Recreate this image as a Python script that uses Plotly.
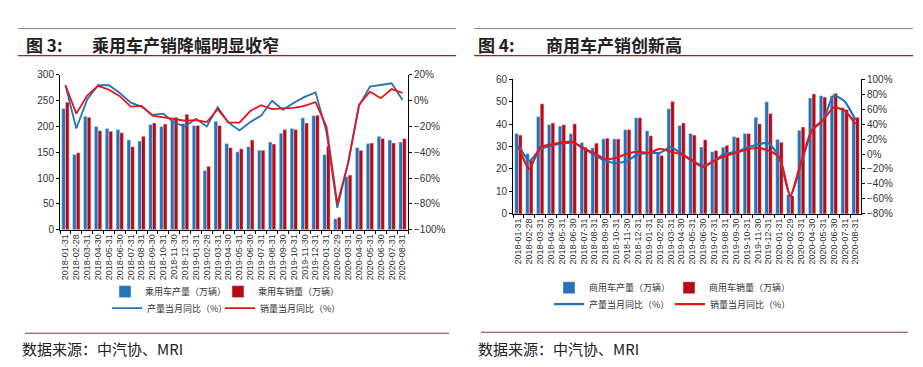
import plotly.graph_objects as go

months = ["2018-01-31", "2018-02-28", "2018-03-31", "2018-04-30", "2018-05-31", "2018-06-30",
          "2018-07-31", "2018-08-31", "2018-09-30", "2018-10-31", "2018-11-30", "2018-12-31",
          "2019-01-31", "2019-02-28", "2019-03-31", "2019-04-30", "2019-05-31", "2019-06-30",
          "2019-07-31", "2019-08-31", "2019-09-30", "2019-10-31", "2019-11-30", "2019-12-31",
          "2020-01-31", "2020-02-29", "2020-03-31", "2020-04-30", "2020-05-31", "2020-06-30",
          "2020-07-31", "2020-08-31"]

# 乘用车 (万辆, %)
pv_prod = [235, 146, 220, 200, 196, 194, 174, 172, 204, 200, 213, 206, 202, 115, 210, 167,
           151, 161, 154, 170, 187, 196, 217, 221, 146, 21, 103, 159, 167, 181, 174, 170]
pv_sales = [247, 149, 218, 192, 191, 188, 161, 181, 207, 205, 218, 224, 202, 123, 202, 159,
            157, 174, 154, 166, 194, 194, 207, 222, 162, 24, 106, 154, 168, 177, 168, 177]
pv_prod_yoy = [12, -21.5, 1, 12, 12, 6, -1.5, -4.5, -11, -10, -17, -20, -14, -20, -5, -17,
               -23, -16.5, -11.5, 0, -7, -1.5, 3, 6.5, -24, -83, -48, -4, 11, 12.5, 13.5, 0.5]
pv_sales_yoy = [12, -10, 4, 11.5, 8.5, 3.5, -4.5, -4, -11.5, -13, -14, -15.5, -15, -16.5, -6.5, -17,
                -17, -8, -3.5, -6.5, -6, -5.5, -4, -1, -20, -80, -48, -3, 7, 2, 9, 6]

# 商用车 (万辆, %)
cv_prod = [35.8, 26.8, 43.3, 39.8, 39.1, 35.8, 31.8, 29.4, 33.4, 33.4, 37.5, 42.8, 37, 27, 46.8, 39.4,
           35.8, 29.8, 27.7, 29.7, 34.4, 35.8, 43, 49.9, 33.2, 8.6, 37.2, 51.6, 52.6, 52.6, 47.3, 43]
cv_sales = [35.1, 23.9, 49, 40.5, 39.7, 40.1, 29.7, 31.5, 33.7, 33.4, 37.5, 42.8, 34.8, 26, 50.1, 40.5,
            35.1, 33, 28.2, 30.5, 34, 35.8, 40.1, 44.7, 31.9, 8.2, 38.7, 53.4, 52, 53.7, 46.5, 43]
cv_prod_yoy = [12, -9, 6, 11, 14, 15, 8, -1.5, -9, -12, -9, -0.5, 1.5, 1.5, 9, 0.3,
               -9, -15.5, -9, 0.3, 3, 8, 13, 14.5, -5, -56, -13, 32, 45, 78, 70, 45]
cv_sales_yoy = [10, -20, 9, 12.5, 15.5, 16, 7, 1, -7, -5, 0.3, 3, 1.5, 7, 3, -0.5,
                -9, -17.5, -9, -2.7, 1.6, 6, 8, 4.6, -5, -56, -10, 32, 45, 62, 58, 40]

BLUE = "#2472B8"
DRED = "#B80A14"
LBLUE = "#2472B8"
LRED = "#E8141C"
FONT = "Liberation Sans, Arial, sans-serif"
CJK = "Noto Sans CJK SC"

W, H = 923, 367
def px(x): return x / W
def py(y): return 1 - y / H

fig = go.Figure()

# left chart
fig.add_trace(go.Bar(x=months, y=pv_prod, name="乘用车产量（万辆）", marker_color=BLUE,
                     xaxis="x", yaxis="y", legend="legend", offsetgroup="a"))
fig.add_trace(go.Bar(x=months, y=pv_sales, name="乘用车销量（万辆）", marker_color=DRED,
                     xaxis="x", yaxis="y", legend="legend2", offsetgroup="b"))
fig.add_trace(go.Scatter(x=months, y=pv_prod_yoy, name="产量当月同比（%）", mode="lines",
                         line=dict(color=LBLUE, width=1.8), xaxis="x", yaxis="y2", legend="legend3"))
fig.add_trace(go.Scatter(x=months, y=pv_sales_yoy, name="销量当月同比（%）", mode="lines",
                         line=dict(color=LRED, width=1.8), xaxis="x", yaxis="y2", legend="legend4"))

# right chart
fig.add_trace(go.Bar(x=months, y=cv_prod, name="商用车产量（万辆）", marker_color=BLUE,
                     xaxis="x2", yaxis="y3", legend="legend5", offsetgroup="a"))
fig.add_trace(go.Bar(x=months, y=cv_sales, name="商用车销量（万辆）", marker_color=DRED,
                     xaxis="x2", yaxis="y3", legend="legend6", offsetgroup="b"))
fig.add_trace(go.Scatter(x=months, y=cv_prod_yoy, name="产量当月同比（%）", mode="lines",
                         line=dict(color=LBLUE, width=2.2, shape="spline", smoothing=0.6),
                         xaxis="x2", yaxis="y4", legend="legend7"))
fig.add_trace(go.Scatter(x=months, y=cv_sales_yoy, name="销量当月同比（%）", mode="lines",
                         line=dict(color=LRED, width=2.2, shape="spline", smoothing=0.6),
                         xaxis="x2", yaxis="y4", legend="legend8"))

xcommon = dict(type="category", showline=True, linecolor="#000", linewidth=1,
               ticks="outside", ticklen=3, tickcolor="#000", tickson="boundaries",
               tickmode="array", tickvals=months, ticktext=months,
               tickangle=-90, tickfont=dict(family=FONT, size=9, color="#333"),
               showgrid=False, zeroline=False)
ycommon = dict(showline=True, linecolor="#000", linewidth=1, ticks="outside", ticklen=3,
               tickcolor="#000", tickfont=dict(family=FONT, size=10, color="#333"),
               showgrid=False, zeroline=False)

L_dom = [px(52), px(400)]
L_ydom = [py(223), py(63)]
R_dom = [px(505), px(853)]
R_ydom = [py(206.7), py(67.3)]

fig.update_layout(
    width=W, height=H, autosize=False,
    margin=dict(l=0, r=0, t=0, b=0),
    paper_bgcolor="white", plot_bgcolor="white",
    barmode="group", bargap=0.32, bargroupgap=0.0,
    xaxis=dict(domain=L_dom, anchor="y", **xcommon),
    yaxis=dict(domain=L_ydom, anchor="x", range=[0, 300], dtick=50, **ycommon),
    yaxis2=dict(overlaying="y", anchor="x", side="right", range=[-100, 20], dtick=20,
                ticksuffix="%", **ycommon),
    xaxis2=dict(domain=R_dom, anchor="y3", **xcommon),
    yaxis3=dict(domain=R_ydom, anchor="x2", range=[0, 60], dtick=10, **ycommon),
    yaxis4=dict(overlaying="y3", anchor="x2", side="right", range=[-80, 100], dtick=20,
                ticksuffix="%", **ycommon),
    showlegend=True,
)

leg = dict(orientation="h", xanchor="left", yanchor="middle", bgcolor="rgba(0,0,0,0)",
           font=dict(family=CJK, size=9, color="#333"), itemwidth=30)
fig.update_layout(
    legend=dict(x=px(97), y=py(287), **leg),
    legend2=dict(x=px(210), y=py(287), **leg),
    legend3=dict(x=px(99), y=py(304), **leg),
    legend4=dict(x=px(212), y=py(304), **leg),
    legend5=dict(x=px(541), y=py(283), **leg),
    legend6=dict(x=px(661), y=py(283), **leg),
    legend7=dict(x=px(541), y=py(300), **leg),
    legend8=dict(x=px(662), y=py(300), **leg),
)

anns = []
def txt(x, y, s, size, bold=False, color="#222"):
    anns.append(dict(x=px(x), y=py(y), xref="paper", yref="paper", xanchor="left", yanchor="middle",
                     text=("<b>%s</b>" % s) if bold else s, showarrow=False,
                     font=dict(family=CJK, size=size, color=color)))

txt(16, 32, "图 3:", 17, True)
txt(82, 32, "乘用车产销降幅明显收窄", 17, True)
txt(468, 32, "图 4:", 17, True)
txt(536, 32, "商用车产销创新高", 17, True)
txt(12, 346, "数据来源：中汽协、MRI", 15)
txt(468, 346, "数据来源：中汽协、MRI", 15)
fig.update_layout(annotations=anns)

shapes = []
def hline(x0, x1, y, color, w=1):
    shapes.append(dict(type="line", xref="paper", yref="paper", x0=px(x0), x1=px(x1),
                       y0=py(y), y1=py(y), line=dict(color=color, width=w)))
hline(10, 448, 15, "#8C8C8C", 1.2)
hline(10, 448, 43, "#8B2A2A", 1.2)
hline(466, 905, 15, "#8C8C8C", 1.2)
hline(466, 905, 43, "#8B2A2A", 1.2)
hline(17, 441, 330, "#7A3B3B", 1)
hline(473, 900, 329, "#7A3B3B", 1)
fig.update_layout(shapes=shapes)

fig.write_html("out.html")
